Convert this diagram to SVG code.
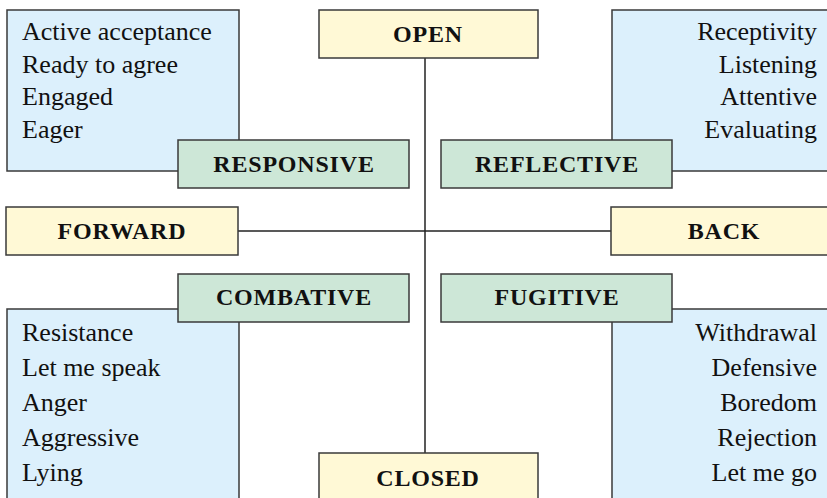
<svg xmlns="http://www.w3.org/2000/svg" width="827" height="498" viewBox="0 0 827 498">
  <style>
    .list { fill: #dcf0fc; stroke: #3a3a3a; stroke-width: 1.5; }
    .pole { fill: #fff9d6; stroke: #3a3a3a; stroke-width: 1.5; }
    .mode { fill: #cde7d7; stroke: #3a3a3a; stroke-width: 1.5; }
    .item { font-family: "Liberation Serif", "DejaVu Serif", serif; font-size: 26px; fill: #111; }
    .label { font-family: "Liberation Serif", "DejaVu Serif", serif; font-size: 24px; font-weight: bold; fill: #111; text-anchor: middle; letter-spacing: 0.8px; }
    .axis { stroke: #222; stroke-width: 1.5; fill: none; }
  </style>

  <!-- axes -->
  <g id="connectors">
    <line class="axis" x1="425" y1="58" x2="425" y2="453"/>
    <line class="axis" x1="238" y1="231" x2="611" y2="231"/>
  </g>

  <!-- quadrant lists -->
  <g id="list-responsive">
    <rect class="list" x="7" y="10" width="232" height="161"/>
    <text class="item" x="22" y="40">Active acceptance</text>
    <text class="item" x="22" y="73">Ready to agree</text>
    <text class="item" x="22" y="105">Engaged</text>
    <text class="item" x="22" y="138">Eager</text>
  </g>
  <g id="list-reflective">
    <rect class="list" x="612" y="10" width="232" height="161"/>
    <text class="item" x="817" y="40" text-anchor="end">Receptivity</text>
    <text class="item" x="817" y="73" text-anchor="end">Listening</text>
    <text class="item" x="817" y="105" text-anchor="end">Attentive</text>
    <text class="item" x="817" y="138" text-anchor="end">Evaluating</text>
  </g>
  <g id="list-combative">
    <rect class="list" x="7" y="309" width="232" height="200"/>
    <text class="item" x="22" y="341">Resistance</text>
    <text class="item" x="22" y="376">Let me speak</text>
    <text class="item" x="22" y="411">Anger</text>
    <text class="item" x="22" y="446">Aggressive</text>
    <text class="item" x="22" y="481">Lying</text>
  </g>
  <g id="list-fugitive">
    <rect class="list" x="612" y="309" width="232" height="200"/>
    <text class="item" x="817" y="341" text-anchor="end">Withdrawal</text>
    <text class="item" x="817" y="376" text-anchor="end">Defensive</text>
    <text class="item" x="817" y="411" text-anchor="end">Boredom</text>
    <text class="item" x="817" y="446" text-anchor="end">Rejection</text>
    <text class="item" x="817" y="481" text-anchor="end">Let me go</text>
  </g>

  <!-- poles -->
  <g id="open">
    <rect class="pole" x="319" y="10" width="219" height="48"/>
    <text class="label" x="428" y="42">OPEN</text>
  </g>
  <g id="closed">
    <rect class="pole" x="319" y="453" width="219" height="48"/>
    <text class="label" x="428" y="486">CLOSED</text>
  </g>
  <g id="forward">
    <rect class="pole" x="6" y="207" width="232" height="48"/>
    <text class="label" x="122" y="239">FORWARD</text>
  </g>
  <g id="back">
    <rect class="pole" x="611" y="207" width="232" height="48"/>
    <text class="label" x="724" y="239">BACK</text>
  </g>

  <!-- modes -->
  <g id="responsive">
    <rect class="mode" x="178" y="140" width="231" height="48"/>
    <text class="label" x="294" y="172">RESPONSIVE</text>
  </g>
  <g id="reflective">
    <rect class="mode" x="441" y="140" width="231" height="48"/>
    <text class="label" x="557" y="172">REFLECTIVE</text>
  </g>
  <g id="combative">
    <rect class="mode" x="178" y="274" width="231" height="48"/>
    <text class="label" x="294" y="305">COMBATIVE</text>
  </g>
  <g id="fugitive">
    <rect class="mode" x="441" y="274" width="231" height="48"/>
    <text class="label" x="557" y="305">FUGITIVE</text>
  </g>
</svg>
